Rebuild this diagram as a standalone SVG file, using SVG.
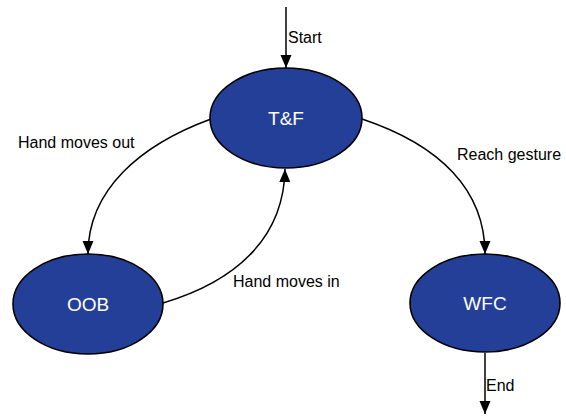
<svg xmlns="http://www.w3.org/2000/svg" width="566" height="416" viewBox="0 0 566 416">
  <style>
    .state ellipse { fill: #243f97; stroke: #000; stroke-width: 1.6; }
    .state text { fill: #fff; font-family: "Liberation Sans", Arial, sans-serif; font-size: 19px; text-anchor: middle; }
    .edge { fill: none; stroke: #000; stroke-width: 1.5; marker-end: url(#arrow); }
    .label { fill: #000; font-family: "Liberation Sans", Arial, sans-serif; font-size: 16px; }
  </style>
  <defs>
    <marker id="arrow" markerUnits="userSpaceOnUse" markerWidth="13" markerHeight="13" viewBox="0 0 13 13" refX="13" refY="6.5" orient="auto">
      <path d="M0,1 L13,6.5 L0,12 Z" fill="#000"/>
    </marker>
  </defs>
  <rect width="566" height="416" fill="#fff"/>

  <g id="connectors">
    <path class="edge" d="M286,7 L286,68"/>
    <path class="edge" d="M211,119 C140,145 88,190 88,254"/>
    <path class="edge" d="M163,303 C240,280 284,235 285,169"/>
    <path class="edge" d="M362,119 C440,145 485,190 485,254"/>
    <path class="edge" d="M485,353 L485,414"/>
    <text class="label" x="288" y="43">Start</text>
    <text class="label" x="18" y="148">Hand moves out</text>
    <text class="label" x="233" y="287">Hand moves in</text>
    <text class="label" x="457" y="160">Reach gesture</text>
    <text class="label" x="486" y="391">End</text>
  </g>

  <g id="tf" class="state">
    <ellipse cx="286" cy="118" rx="76" ry="50"/>
    <text x="286" y="125">T&amp;F</text>
  </g>
  <g id="oob" class="state">
    <ellipse cx="88" cy="304" rx="75" ry="50"/>
    <text x="88" y="311">OOB</text>
  </g>
  <g id="wfc" class="state">
    <ellipse cx="485" cy="303" rx="75" ry="49"/>
    <text x="485" y="310">WFC</text>
  </g>
</svg>
